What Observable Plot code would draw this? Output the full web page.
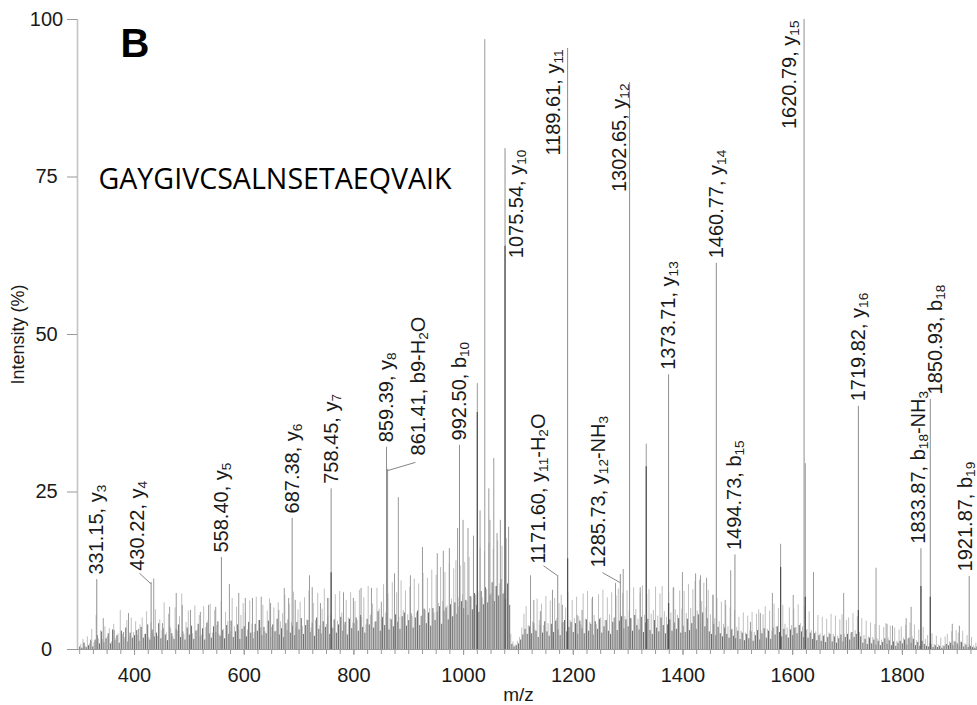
<!DOCTYPE html>
<html><head><meta charset="utf-8">
<script src="https://cdn.jsdelivr.net/npm/d3@7"></script>
<script src="https://cdn.jsdelivr.net/npm/@observablehq/plot@0.6"></script>
<style>body{margin:0;background:#fff}#chart svg{display:block}</style>
</head><body><div id="chart"></div>
<script>
// ---------------- data ----------------
const panelLetter = "B";
const peptide = "GAYGIVCSALNSETAEQVAIK";
const xDomain = [296, 1937];
const yTicks = [0, 25, 50, 75, 100];
const xTicks = [400, 600, 800, 1000, 1200, 1400, 1600, 1800];

// annotated fragment ions
const annMz  = [331.15, 430.22, 558.40, 687.38, 758.45, 859.39, 861.41, 992.50, 1075.54, 1171.60, 1189.61, 1285.73, 1302.65, 1373.71, 1460.77, 1494.73, 1620.79, 1719.82, 1833.87, 1850.93, 1921.87];
const annInt = [11.1, 10.6, 14.6, 20.8, 25.5, 32.1, 28.6, 32.4, 79.5, 11.7, 95.4, 11.9, 90.0, 43.6, 61.3, 15.0, 100, 38.6, 16.0, 39.7, 11.6];
const annIon = ["y_3","y_4","y_5","y_6","y_7","y_8","b9-H_2O","b_10","y_10","y_11-H_2O","y_11","y_12-NH_3","y_12","y_13","y_14","b_15","y_15","y_16","b_18-NH_3","b_18","b_19"];

// other prominent (unlabelled) peaks [m/z, intensity]
const otherPeaks = [
 [307,1],[320,1.5],[343,4.9],[363,3],[380,2.7],[389,5.7],[407,3.2],[435,11.2],[451,4.1],[464,6.7],[476,8.9],[487,7],
 [502,6.2],[520,5.9],[535,7],[548,6.7],[573,10.3],[590,8.9],[602,8.1],[615,8.1],[631,8.3],[648,7.3],[663,6.2],[673,9.7],
 [681,8.1],[693,7.8],[719,11.7],[724,9.8],[739,7.3],[752,8.1],[781,9],[799,8.1],[813,9.7],[832,9.7],[850,7.5],[874,12],
 [881,24.1],[903,11.7],[925,16.2],[952,15.2],[963,15.6],[974,16],[989,19.2],[999,20.5],[1008,19.2],[1018,18],[1025,42.2],
 [1030,22],[1038.6,96.8],[1046,25.5],[1048,20.5],[1055,30.3],[1061,18.4],[1067,20.5],[1082,19.4],[1122,11.7],[1128,7.8],
 [1140,6],[1162,9.4],[1180,7],[1207,5.4],[1216,6.2],[1235,8.3],[1277,10.5],[1291,12.7],[1322,9.8],[1333,32.6],[1383,9.8],
 [1399,12.2],[1423,12],[1432,11.7],[1443,11.3],[1455,8.6],[1477,7.8],[1487,12.5],[1523,4.3],[1541,5.7],[1563,8.9],
 [1578,16.7],[1601,8.6],[1623,29.5],[1638,12.2],[1693,8.9],[1752,12.9],[1772,4],[1782,3.7],[1807,4.9],[1816,6.7],
 [1891,4],[1904,3.7]
];
// darker lower cores of some peaks [m/z, intensity]
const peakCores = [[758.45,12.2],[1025,37.6],[1075.54,64],[1189.61,14.4],[1333,29],[1373.71,7.3],[1578,13],[1623,8.3],[1719.82,6.2],[1833.87,10],[1850.93,8.3]];

// dense low-level noise, rows of 100 m/z, 4 m/z apart (dark: from 300, light: from 302)
const noiseDark = [
 [0.4,0.2,1.0,0.3,0.6,1.3,0.4,1.5,2.2,0.9,2.8,1.1,1.7,2.5,0.9,3.1,1.4,2.2,1.0,2.9,1.6,3.4,1.2,2.6,1.8],
 [2.2,3.0,1.3,3.5,1.8,2.4,3.9,1.5,3.1,2.0,2.6,4.1,1.7,3.3,2.3,1.4,3.6,2.5,1.6,3.2,3.9,1.9,2.8,1.5,3.4],
 [2.3,3.7,1.6,2.9,4.0,2.0,3.3,1.5,4.2,2.5,1.8,3.6,2.7,4.4,2.1,3.0,1.7,3.8,2.4,4.5,1.9,2.8,3.9,1.6,3.2],
 [3.6,2.0,4.3,2.6,1.7,4.0,2.9,4.6,2.2,3.5,2.5,4.5,1.9,3.9,2.8,4.8,2.3,3.3,1.9,4.1,4.7,2.6,3.7,2.2,4.3],
 [3.1,4.9,2.4,3.8,4.6,2.7,4.2,2.1,5.0,3.2,2.5,4.4,3.5,5.2,2.4,3.4,4.7,2.6,3.9,5.1,2.9,4.3,2.3,4.8,3.3],
 [4.1,5.0,2.9,5.4,3.5,2.6,4.8,3.9,5.7,3.4,4.4,6.0,2.9,5.1,3.8,5.6,3.1,4.7,3.6,5.5,4.3,3.2,5.2,5.8,3.7],
 [4.6,5.7,3.4,5.0,6.1,3.8,5.3,6.4,4.1,5.8,3.7,6.5,4.6,5.9,6.8,4.0,6.1,6.6,4.7,7.1,5.2,7.4,5.6,6.7,7.6],
 [6.5,7.8,5.4,8.4,6.3,8.9,7.0,5.9,9.2,7.1,9.8,7.4,8.6,10.6,7.6,10.0,8.5,11.1,8.8,7.9,10.4,7.0,0.8,0.4,0.6],
 [0.9,1.5,2.3,3.2,2.4,3.6,2.5,4.1,2.9,1.9,3.8,2.6,4.4,2.8,2.1,4.0,2.7,4.5,3.1,2.2,4.2,4.6,2.8,3.5,4.3],
 [2.7,4.1,2.4,4.5,3.3,2.5,4.7,2.9,4.0,2.3,4.4,3.2,4.8,2.6,3.6,4.6,2.9,2.4,4.3,5.0,3.0,4.5,5.2,3.3,4.7],
 [3.6,4.9,2.9,5.4,3.8,3.1,5.1,2.7,4.2,4.8,3.0,2.4,4.6,3.4,2.8,5.0,3.8,2.5,3.9,4.7,2.9,4.2,3.2,4.9,2.6],
 [3.7,2.7,4.8,3.0,4.1,5.2,3.2,5.5,4.2,5.8,3.6,4.9,2.8,2.4,4.0,2.2,3.5,2.5,2.0,3.4,2.4,1.8,3.1,2.1,1.7],
 [2.9,1.6,2.6,1.4,2.4,1.7,2.8,1.3,2.2,3.0,1.5,2.5,3.3,1.8,2.9,1.6,3.4,2.3,3.6,2.7,2.0,3.2,2.3,1.8,3.1],
 [2.2,3.4,2.5,3.8,2.8,1.9,3.0,1.8,2.6,1.6,2.5,1.4,2.2,1.3,2.1,1.1,1.9,2.4,1.2,2.0,1.0,1.7,2.3,1.2,1.9],
 [2.4,1.5,2.7,1.9,2.4,1.3,2.0,1.0,1.6,0.8,1.8,0.9,1.5,0.7,1.3,0.6,1.1,1.7,0.8,1.4,0.6,1.2,0.5,1.0,1.3],
 [0.9,1.5,0.7,1.8,1.0,1.6,0.6,1.1,0.5,1.3,0.8,0.5,0.4,0.8,0.3,0.6,0.3,0.5,0.2,0.5,0.8,0.6,1.0,0.6,1.2],
 [0.9,0.5,1.1,0.4,0.7,0.3,0.5,0.3,0.2,0.4]
];
const noiseLight = [
 [0.8,1.6,0.5,2.0,0.9,3.2,1.1,5.4,1.7,3.0,1.6,3.6,2.0,3.3,1.2,4.0,1.8,2.5,6.2,2.4,1.9,4.6,2.1,5.0,2.7],
 [4.4,2.2,3.9,5.0,2.4,6.0,1.9,4.3,2.5,6.3,2.1,4.7,3.0,7.4,2.6,5.6,3.3,2.0,6.6,2.9,5.2,8.8,2.4,4.3,6.1],
 [4.8,2.5,6.9,3.1,5.4,2.3,6.8,3.5,4.6,7.2,2.6,6.2,3.8,2.4,7.6,3.2,5.9,4.4,2.8,8.1,3.6,6.7,3.0,5.4,7.3],
 [5.8,3.1,7.7,4.0,2.7,8.3,4.6,3.4,7.0,2.8,6.1,8.0,3.5,6.6,2.9,7.4,4.4,5.7,8.6,3.0,7.2,4.3,9.1,3.4,6.3],
 [7.5,3.7,8.2,4.7,9.3,3.4,7.3,4.6,8.9,3.8,6.4,9.6,4.0,8.1,5.4,3.3,8.7,4.5,9.2,5.8,3.9,7.8,5.0,9.0,4.2],
 [7.6,4.6,9.4,5.1,8.2,3.9,10.0,5.4,7.2,4.3,9.7,6.4,4.7,10.3,5.8,8.8,4.9,10.6,6.6,9.0,5.1,10.9,6.2,9.3,5.5],
 [9.9,5.3,11.2,5.8,10.4,5.2,12.1,6.2,11.3,6.5,12.6,5.8,11.8,7.3,13.0,7.6,12.2,6.9,13.6,8.0,12.8,14.1,8.2,13.3,8.7],
 [13.8,7.6,14.6,8.3,15.2,8.6,9.2,16.1,8.2,15.5,9.5,16.8,8.9,15.9,10.0,17.2,10.4,16.4,9.3,17.6,10.8,2.4,1.2,0.7,1.3],
 [1.9,3.4,5.6,6.8,3.8,7.5,4.4,3.1,8.0,4.6,7.2,3.8,8.4,4.1,7.7,3.6,8.1,4.9,7.3,8.6,4.3,6.6,9.0,4.6,7.8],
 [4.9,8.3,5.2,3.9,8.8,4.8,9.2,4.3,8.0,5.4,4.0,8.7,5.0,9.4,4.6,8.2,5.5,9.0,5.0,8.5,9.6,5.7,8.9,5.2,9.3],
 [6.1,4.9,9.8,6.3,4.8,8.9,10.1,5.4,8.7,9.5,5.6,6.2,9.9,5.3,8.8,10.0,6.0,5.1,9.1,5.8,9.7,6.3,5.4,9.3,6.4],
 [9.2,5.7,10.3,6.5,9.5,10.8,6.1,11.0,7.6,10.5,6.6,9.4,5.5,8.6,4.9,8.1,4.4,7.5,4.0,7.0,3.6,6.6,3.2,6.2,3.5],
 [5.1,2.9,5.8,2.6,5.3,3.0,5.9,2.7,5.6,6.3,3.0,5.5,6.8,3.2,6.1,2.9,7.2,3.6,6.5,3.2,7.0,4.0,3.4,6.6,3.8],
 [6.4,3.5,7.1,4.1,3.6,6.8,3.2,6.0,3.0,5.8,2.8,5.4,2.5,5.1,2.3,4.8,2.6,5.6,2.4,5.3,2.1,4.7,5.5,2.4,4.6],
 [5.0,2.6,5.7,3.0,5.2,2.7,4.9,2.2,4.5,2.0,4.2,1.9,4.0,1.7,3.8,1.5,3.5,4.1,1.8,3.7,1.4,3.4,1.3,3.1,3.6],
 [1.8,3.8,1.6,4.2,2.0,3.9,1.4,3.1,1.3,3.5,1.6,2.2,1.0,2.5,0.8,2.1,0.7,1.8,0.6,2.0,2.4,1.2,2.8,1.3,3.0],
 [2.6,1.2,2.9,0.9,2.2,0.8,1.9,0.6,1.0]
];

// label placement (how each annotation is attached to its peak)
const annPlace = ["above","leader","above","above","above","above","leader","above","right","leader","left","leader","left","above","above","above","left","above","above","above","above"];
// leader labels: [label m/z, label bottom %, leader start m/z, leader start %, leader end %]
const leaderGeom = {1:[405.4,12.5,409,12.1,10.4], 6:[917.7,30.8,912.2,29.7,28.4], 9:[1136.5,13.6,1145.6,13.3,11.7], 11:[1245.9,13.0,1253.2,12.2,10.6]};
const sideOffset = {8: 12, 10: -14, 12: -10, 16: -14};
const aboveShift = {18: -2, 19: 5, 20: -4};

// ---------------- build ----------------
const toPts = (rows, start) => rows.flatMap((row, r) => row.map((v, j) => ({mz: start + 100 * r + 4 * j, v})));
const darkPts = toPts(noiseDark, 300);
const lightPts = toPts(noiseLight, 302);
const others = otherPeaks.map(([mz, v]) => ({mz, v}));
const cores = peakCores.map(([mz, v]) => ({mz, v}));
const ann = annMz.map((mz, i) => ({i, mz, v: annInt[i], label: `${mz.toFixed(2)}, ${annIon[i]}`, place: annPlace[i]}));
const above = ann.filter(d => d.place === "above");
const sides = ann.filter(d => d.place === "left" || d.place === "right");
const leaders = ann.filter(d => d.place === "leader").map(d => {
  const g = leaderGeom[d.i];
  return {...d, lx: g[0], ly: g[1], sx: g[2], sy: g[3], ey: g[4]};
});

const font = "Liberation Sans, Arial, Helvetica, sans-serif";
const ink = "#1a1a1a";
const lblSize = 20;

const marks = [
  Plot.ruleX(lightPts, {x: "mz", y1: 0, y2: "v", stroke: "#b8b8b8", strokeWidth: 0.9}),
  Plot.ruleX(darkPts, {x: "mz", y1: 0, y2: "v", stroke: "#5a5a5a", strokeWidth: 0.9}),
  Plot.ruleX(others, {x: "mz", y1: 0, y2: "v", stroke: "#9a9a9a", strokeWidth: 1}),
  Plot.ruleX(ann, {x: "mz", y1: 0, y2: "v", stroke: "#8e8e8e", strokeWidth: 1}),
  Plot.ruleX(cores, {x: "mz", y1: 0, y2: "v", stroke: "#505050", strokeWidth: 1.2}),
  Plot.link(leaders, {x1: "sx", y1: "sy", x2: "mz", y2: "ey", stroke: "#777", strokeWidth: 0.9}),
  ...above.map(d => Plot.text([d], {x: "mz", y: "v", text: "label", rotate: -90, textAnchor: "start", lineAnchor: "middle", dx: aboveShift[d.i] || 0, dy: -5, fontSize: lblSize, fill: ink})),
  Plot.text(leaders, {x: "lx", y: "ly", text: "label", rotate: -90, textAnchor: "start", lineAnchor: "middle", fontSize: lblSize, fill: ink}),
  ...sides.map(d => Plot.text([d], {x: "mz", y: "v", text: "label", rotate: -90, textAnchor: "end", lineAnchor: "middle", dx: sideOffset[d.i], dy: 1, fontSize: lblSize, fill: ink})),
  Plot.ruleX([xDomain[0]], {stroke: "#c4c4c4", strokeWidth: 1.6}),
  Plot.ruleY([0], {stroke: "#999", strokeWidth: 1.2}),
  Plot.axisY({ticks: yTicks, tickSize: 10, tickPadding: 21, textAnchor: "middle", fontSize: 20, stroke: "#999", fill: ink, label: null}),
  Plot.axisX({ticks: d3.range(300, xDomain[1], 25), tickSize: 5, tickFormat: () => "", stroke: "#999", label: null}),
  Plot.axisX({ticks: xTicks, tickSize: 6, tickPadding: 12, tickFormat: d => String(d), fontSize: 20, stroke: "#999", fill: ink, label: null}),
  Plot.text(["Intensity (%)"], {frameAnchor: "left", rotate: -90, textAnchor: "middle", lineAnchor: "middle", dx: -59, fontSize: 18, fill: ink}),
  Plot.text(["m/z"], {frameAnchor: "bottom", textAnchor: "middle", lineAnchor: "middle", dx: -9, dy: 45, fontSize: 19, fill: ink}),
  Plot.text([panelLetter], {frameAnchor: "top-left", textAnchor: "start", lineAnchor: "top", dx: 43, dy: 9, fontSize: 40, fontWeight: "bold", fill: "#000"}),
  Plot.text([peptide], {frameAnchor: "top-left", textAnchor: "start", lineAnchor: "top", dx: 21, dy: 149, fontSize: 28.6, fontFamily: "Open Sans", fill: "#000"})
];

const chart = Plot.plot({
  width: 977, height: 705,
  marginLeft: 77, marginTop: 19, marginBottom: 56, marginRight: 0,
  x: {domain: xDomain},
  y: {domain: [0, 100]},
  style: {fontFamily: font, background: "#fff", overflow: "visible"},
  marks
});

// render "_n" as subscripts
const NS = "http://www.w3.org/2000/svg";
chart.querySelectorAll("text").forEach(t => {
  const s = t.textContent;
  if (!s.includes("_")) return;
  t.textContent = "";
  let low = false;
  s.split(/_(\d+)/).forEach((p, k) => {
    if (!p) return;
    const ts = document.createElementNS(NS, "tspan");
    ts.textContent = p;
    if (k % 2) { ts.setAttribute("font-size", "0.68em"); ts.setAttribute("dy", "3"); low = true; }
    else if (low) { ts.setAttribute("dy", "-3"); low = false; }
    t.appendChild(ts);
  });
});
document.getElementById("chart").appendChild(chart);
</script></body></html>
